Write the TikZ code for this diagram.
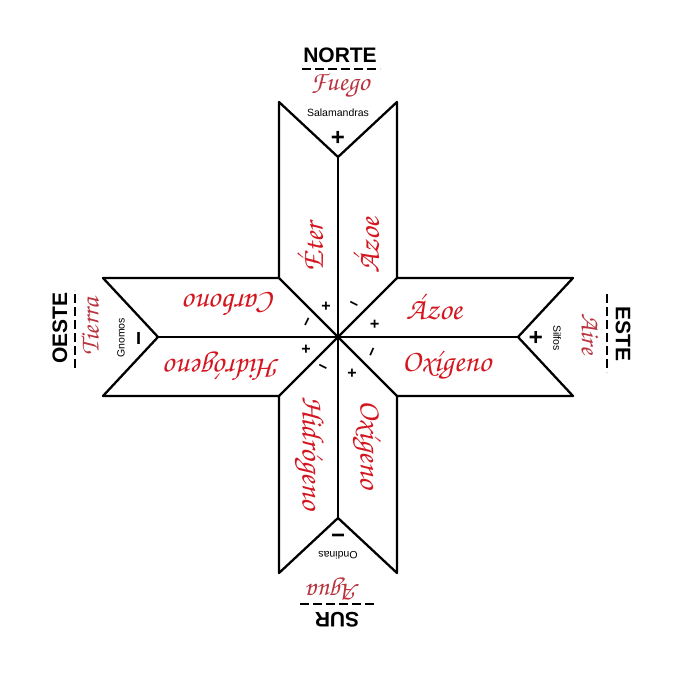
\documentclass[tikz,border=0pt]{standalone}
\usepackage[T1]{fontenc}
\usepackage{fontspec}
\setsansfont{Liberation Sans}
\usetikzlibrary{positioning}

\definecolor{elementred}{RGB}{212,22,32}
\definecolor{realmred}{RGB}{185,52,62}
\newcommand{\handfont}{\usefont{T1}{pzc}{mb}{it}}

\begin{document}
\begin{tikzpicture}[
    x=1pt, y=-1pt,
    cross/.style={draw, line width=2.3pt, line join=round},
    point/.style={font=\sffamily\bfseries\fontsize{21}{21}\selectfont, inner sep=0pt},
    realm/.style={font=\handfont\fontsize{27}{27}\selectfont, text=realmred, inner sep=0pt},
    spirit/.style={font=\sffamily\fontsize{10.5}{12}\selectfont, inner sep=0pt},
    element/.style={font=\handfont\fontsize{31}{31}\selectfont, text=elementred, inner sep=0pt},
    bigsign/.style={font=\sffamily\bfseries\fontsize{24}{24}\selectfont, inner sep=0pt},
    smallsign/.style={font=\sffamily\bfseries\fontsize{16}{16}\selectfont, inner sep=0pt},
    separator/.style={line width=1.7pt, dash pattern=on 9pt off 4pt}
]
\fill[white] (0,0) rectangle (679,676);

% Cross outline
\coordinate (centre) at (338,337);
\draw[cross] (279,278) -- (279,102) -- (338,157) -- (397,102) -- (397,278)
    -- (573,278) -- (518,337) -- (573,396) -- (397,396)
    -- (397,573) -- (338,518) -- (279,573) -- (279,396)
    -- (103,396) -- (158,337) -- (103,278) -- cycle;
\draw[cross] (338,157) -- (338,518);
\draw[cross] (158,337) -- (518,337);
\draw[cross] (279,278) -- (397,396);
\draw[cross] (397,278) -- (279,396);

% North
\node[point] (norte) at (340,55) {NORTE};
\draw[separator] (302,69) -- (380,69);
\node[realm] (fuego) at (340,86) {Fuego};
\node[spirit] (salamandras) at (338,113) {Salamandras};
\node[bigsign] (northsign) at (338,138) {+};

% East
\node[point, rotate=-90] (este) at (623,334) {ESTE};
\draw[separator] (607,294) -- (607,372);
\node[realm, rotate=-90] (aire) at (590,334) {Aire};
\node[spirit, rotate=-90] (silfos) at (557,338) {Silfos};
\node[bigsign, rotate=-90] (eastsign) at (535,338) {+};

% South
\node[point, rotate=180] (sur) at (337,620) {SUR};
\draw[separator] (374,604) -- (298,604);
\node[realm, rotate=180] (agua) at (334,589) {Agua};
\node[spirit, rotate=180] (ondinas) at (338,555) {Ondinas};
\node[bigsign, rotate=180] (southsign) at (338,532) {−};

% West
\node[point, rotate=90] (oeste) at (60,328) {OESTE};
\draw[separator] (75,368) -- (75,290);
\node[realm, rotate=90] (tierra) at (90,327) {Tierra};
\node[spirit, rotate=90] (gnomos) at (121,338) {Gnomos};
\node[bigsign, rotate=90] (westsign) at (142,338) {−};

% Elements in the arms
\node[element, rotate=90, anchor=west] (eter) at (310,272) {\'Eter};
\node[element, rotate=90, anchor=west] (azoenorth) at (366,274) {\'Azoe};
\node[element, anchor=west] (azoeeast) at (406,307) {\'Azoe};
\node[element, anchor=west] (oxigenoeast) at (402,366) {Ox\'{\i}geno};
\node[element, rotate=-90, anchor=west] (oxigenosouth) at (366,400) {Ox\'{\i}geno};
\node[element, rotate=-90, anchor=west] (hidrogenosouth) at (309,396) {Hidr\'ogeno};
\node[element, rotate=180, anchor=west] (hidrogenowest) at (280,366) {Hidr\'ogeno};
\node[element, rotate=180, anchor=west] (carbono) at (276,305) {Carbono};

% Signs round the centre
\node[smallsign] (eterplus) at (326,307) {+};
\node[smallsign, rotate=-27] (azoeminus) at (353,306) {−};
\node[smallsign, rotate=-90] (azoeplus) at (374,324) {+};
\node[smallsign, rotate=66] (oxigenominus) at (374,353) {−};
\node[smallsign] (oxigenoplus) at (352,374) {+};
\node[smallsign, rotate=-27] (hidrogenominus) at (322,369) {−};
\node[smallsign] (hidrogenoplus) at (306,350) {+};
\node[smallsign, rotate=64] (carbonominus) at (309,323) {−};
\end{tikzpicture}
\end{document}
